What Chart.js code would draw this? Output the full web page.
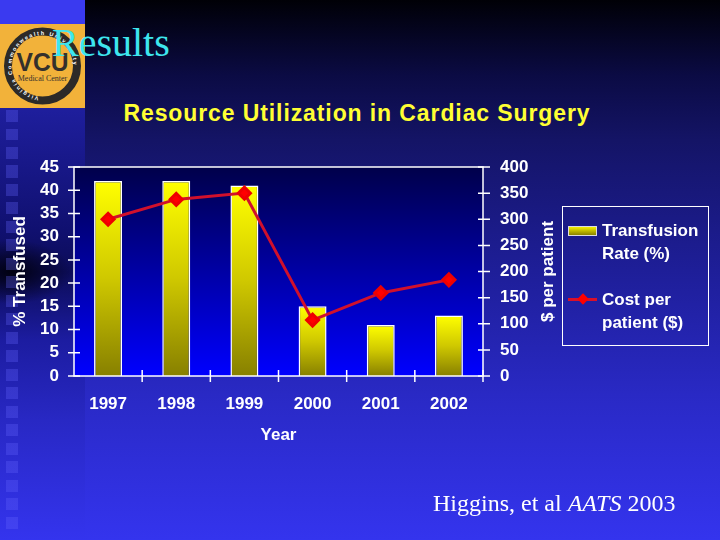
<!DOCTYPE html>
<html>
<head>
<meta charset="utf-8">
<script src="https://cdn.jsdelivr.net/npm/chart.js@4.4.0/dist/chart.umd.min.js"></script>
<style>
    html, body { margin: 0; padding: 0; }
    body {
        width: 720px; height: 540px; overflow: hidden; position: relative;
        background: linear-gradient(to bottom, #000006 0%, #0b0b44 14%, #141466 26%, #1e1e98 50%, #2a2ac8 75%, #3434ee 100%);
        font-family: "Liberation Sans", Arial, sans-serif;
    }
    #strip {
        position: absolute; left: 0; top: 0; width: 85px; height: 540px;
        background: linear-gradient(to bottom, #3a3af0 0px, #3a3af0 24px, #1e1e9c 110px, #101070 230px, #0c0c58 272px, #1c1ca0 340px, #2828c4 420px, #3434ee 540px);
    }
    #shadow {
        position: absolute; left: 0; top: 200px; width: 110px; height: 150px;
        background: radial-gradient(ellipse 60px 32px at 12px 72px, rgba(0,0,12,0.95), rgba(0,0,40,0));
    }
    #squares {
        position: absolute; left: 6px; top: 110px; width: 12px; height: 420px;
        background: repeating-linear-gradient(to bottom, rgba(100,100,255,0.3) 0px, rgba(100,100,255,0.3) 12px, transparent 12px, transparent 18.5px);
    }
    #logo { position: absolute; left: 0; top: 24px; }
    #results {
        position: absolute; left: 52px; top: 23px; font: 40px/40px "Liberation Serif", "Times New Roman", serif;
        color: #3ee6ee; white-space: nowrap;
    }
    #title {
        position: absolute; left: 0; top: 101px; width: 714px; text-align: center;
        font: bold 23px/24px "Liberation Sans", Arial, sans-serif; color: #ffff33;
        letter-spacing: 0.9px; white-space: nowrap;
    }
    #cite {
        position: absolute; left: 433px; top: 491px; font: 24px/24px "Liberation Serif", "Times New Roman", serif;
        color: #fff; white-space: nowrap;
    }
    #chart { position: absolute; left: 0; top: 0; }
    #legend {
        position: absolute; left: 562px; top: 206px; width: 147px; height: 140px;
        border: 1px solid #fff; box-sizing: border-box;
        font: bold 17px/23px "Liberation Sans", Arial, sans-serif; color: #fff;
    }
    .lg-text { position: absolute; left: 39px; white-space: nowrap; }
    #sw-bar {
        position: absolute; left: 5px; top: 19px; width: 29px; height: 10px;
        background: linear-gradient(to bottom, #f4f000, #8a8200); border: 1px solid #ddd; box-sizing: border-box;
    }
    #sw-line { position: absolute; left: 5px; top: 91px; width: 29px; height: 3px; background: #d8102a; }
    #sw-dot {
        position: absolute; left: 16px; top: 88px; width: 8px; height: 8px; background: #ff0000;
        transform: rotate(45deg);
    }
</style>
</head>
<body>
<div id="strip"></div>
<div id="shadow"></div>
<div id="squares"></div>
<svg id="logo" width="85" height="84" viewBox="0 0 85 84">
    <rect x="0" y="0" width="85" height="84" fill="#f2b23a"/>
    <defs>
        <path id="ring" d="M 42.5 73 A 31 31 0 1 1 42.6 73"/>
    </defs>
    <circle cx="42.5" cy="42" r="34.5" fill="none" stroke="#2c2a28" stroke-width="8"/>
    <text font-family="Liberation Sans" font-weight="bold" font-size="5.5" fill="#fff" letter-spacing="1.6">
        <textPath href="#ring" startOffset="2%">Virginia Commonwealth University</textPath>
    </text>
    <text x="42.5" y="47" text-anchor="middle" font-family="Liberation Sans" font-weight="bold" font-size="26" fill="#34302c" textLength="52" lengthAdjust="spacingAndGlyphs">VCU</text>
    <text x="42.5" y="57" text-anchor="middle" font-family="Liberation Serif" font-size="8" fill="#34302c">Medical Center</text>
</svg>
<div id="results">Results</div>
<div id="title">Resource Utilization in Cardiac Surgery</div>
<canvas id="chart" width="720" height="540"></canvas>
<div id="legend">
    <div id="sw-bar"></div>
    <div class="lg-text" style="top:12px">Transfusion<br>Rate (%)</div>
    <div id="sw-line"></div>
    <div id="sw-dot"></div>
    <div class="lg-text" style="top:81px">Cost per<br>patient ($)</div>
</div>
<div id="cite">Higgins, et al <i>AATS</i> 2003</div>

<script>
const years = ['1997', '1998', '1999', '2000', '2001', '2002'];
const transfusionRate = [42, 42, 41, 15, 11, 13];
const costPerPatient = [300, 338, 350, 107, 159, 184];
const rateMax = 45, rateStep = 5;
const costMax = 400, costStep = 50;

const tickFont = { family: '"Liberation Sans", Arial, sans-serif', size: 17, weight: 'bold' };

// plot background, white frame, crossing tick marks and the right axis title
const frame = {
    id: 'frame',
    beforeDraw(chart) {
        const { ctx, chartArea: a } = chart;
        const g = ctx.createLinearGradient(0, a.top, 0, a.bottom);
        g.addColorStop(0, '#00004a');
        g.addColorStop(1, '#0000ff');
        ctx.save();
        ctx.fillStyle = g;
        ctx.fillRect(a.left, a.top, a.right - a.left, a.bottom - a.top);
        ctx.restore();
    },
    afterDraw(chart) {
        const { ctx, chartArea: a, scales } = chart;
        ctx.save();
        ctx.strokeStyle = '#fff';
        ctx.lineWidth = 1.5;
        ctx.strokeRect(a.left, a.top, a.right - a.left, a.bottom - a.top);
        ctx.beginPath();
        scales.y.ticks.forEach(t => {
            const y = scales.y.getPixelForValue(t.value);
            ctx.moveTo(a.left - 6, y); ctx.lineTo(a.left + 6, y);
        });
        scales.y1.ticks.forEach(t => {
            const y = scales.y1.getPixelForValue(t.value);
            ctx.moveTo(a.right - 5, y); ctx.lineTo(a.right + 7, y);
        });
        const half = (scales.x.getPixelForValue(1) - scales.x.getPixelForValue(0)) / 2;
        years.forEach((y, i) => {
            const x = scales.x.getPixelForValue(i) + half;
            ctx.moveTo(x, a.bottom - 6); ctx.lineTo(x, a.bottom + 6);
        });
        ctx.stroke();

        ctx.translate(548, (a.top + a.bottom) / 2);
        ctx.rotate(-Math.PI / 2);
        ctx.font = 'bold 17px "Liberation Sans", Arial, sans-serif';
        ctx.fillStyle = '#fff';
        ctx.textAlign = 'center';
        ctx.textBaseline = 'middle';
        ctx.fillText('$ per patient', 0, 0);
        ctx.restore();
    }
};

function barFill(context) {
    const chart = context.chart;
    const a = chart.chartArea;
    if (!a || context.type !== 'data' || !chart.scales.y) return '#e0dc00';
    const top = chart.scales.y.getPixelForValue(context.parsed.y);
    if (!isFinite(top)) return '#e0dc00';
    const g = chart.ctx.createLinearGradient(0, top, 0, a.bottom);
    g.addColorStop(0, '#ffff00');
    g.addColorStop(0.5, '#cfc800');
    g.addColorStop(1, '#878000');
    return g;
}

new Chart(document.getElementById('chart'), {
    type: 'bar',
    data: {
        labels: years,
        datasets: [
            {
                type: 'line',
                label: 'Cost per patient ($)',
                data: costPerPatient,
                yAxisID: 'y1',
                borderColor: '#d0102c',
                borderWidth: 3,
                pointStyle: 'rectRot',
                pointRadius: 6,
                pointBackgroundColor: '#ff0000',
                pointBorderColor: '#ee0000',
                order: 0
            },
            {
                label: 'Transfusion Rate (%)',
                data: transfusionRate,
                yAxisID: 'y',
                backgroundColor: barFill,
                borderColor: '#ffffff',
                borderWidth: 1.5,
                barPercentage: 0.41,
                categoryPercentage: 1,
                order: 1
            }
        ]
    },
    options: {
        responsive: false,
        animation: false,
        layout: { padding: { left: 0, right: 185, top: 167, bottom: 94 } },
        plugins: {
            legend: { display: false },
            title: { display: false },
            tooltip: { enabled: false }
        },
        scales: {
            x: {
                grid: { display: false, drawTicks: false },
                border: { display: false },
                ticks: { color: '#fff', font: tickFont, padding: 18, maxRotation: 0, autoSkip: false },
                title: { display: true, text: 'Year', color: '#fff', font: tickFont, padding: 0 },
                afterFit(scale) { scale.height = 70; }
            },
            y: {
                position: 'left',
                min: 0, max: rateMax,
                grid: { display: false, drawTicks: false },
                border: { display: false },
                ticks: { stepSize: rateStep, color: '#fff', font: tickFont, padding: 15, autoSkip: false },
                title: { display: true, text: '% Transfused', color: '#fff', font: tickFont, padding: { top: 10, bottom: 0 } },
                afterFit(scale) { scale.width = 74; }
            },
            y1: {
                position: 'right',
                min: 0, max: costMax,
                grid: { display: false, drawTicks: false },
                border: { display: false },
                ticks: { stepSize: costStep, color: '#fff', font: tickFont, padding: 17, autoSkip: false },
                afterFit(scale) { scale.width = 52; }
            }
        }
    },
    plugins: [frame]
});
</script>
</body>
</html>
